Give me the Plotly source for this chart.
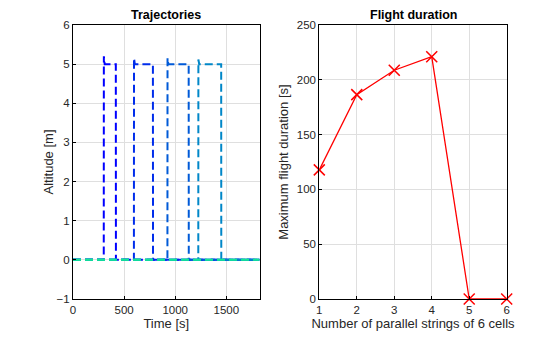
import plotly.graph_objects as go

# ---- Data ----
n_strings = [1, 2, 3, 4, 5, 6]
flight_duration = [117.8, 186.5, 208.7, 221.1, 0, 0]

# Trajectory breakpoints (time [s], altitude [m]) per configuration
traj_t = [
    [0, 301, 302, 305, 310, 419, 420, 1825],
    [0, 596, 597, 600, 605, 782, 783, 1825],
    [0, 924, 925, 928, 933, 1132, 1133, 1825],
    [0, 1226, 1227, 1230, 1235, 1450, 1451, 1825],
    [0, 1825],
    [0, 1825],
]
traj_alt = [
    [0, 0, 5.2, 5.05, 5.0, 5.0, 0, 0],
    [0, 0, 5.15, 5.02, 5.0, 5.0, 0, 0],
    [0, 0, 5.15, 5.02, 5.0, 5.0, 0, 0],
    [0, 0, 5.12, 5.02, 5.0, 5.0, 0, 0],
    [0, 0],
    [0, 0],
]
traj_colors = ["rgb(0,0,255)", "rgb(0,45,235)", "rgb(0,90,215)",
               "rgb(0,135,200)", "rgb(0,190,170)", "rgb(20,230,150)"]

x_ticks_left = [0, 500, 1000, 1500]
y_ticks_left = [-1, 0, 1, 2, 3, 4, 5, 6]
y_ticks_right = [0, 50, 100, 150, 200, 250]

FONT = "Liberation Sans, Arial, sans-serif"

fig = go.Figure()

for t, a, c in zip(traj_t, traj_alt, traj_colors):
    fig.add_trace(go.Scatter(x=t, y=a, mode="lines", xaxis="x", yaxis="y",
                             line=dict(color=c, width=2, dash="8px,4px"),
                             showlegend=False, hoverinfo="skip"))

fig.add_trace(go.Scatter(x=n_strings, y=flight_duration, mode="lines+markers",
                         xaxis="x2", yaxis="y2",
                         line=dict(color="rgb(255,0,0)", width=1.3),
                         marker=dict(symbol="x-thin", size=11,
                                     line=dict(color="rgb(255,0,0)", width=1.5)),
                         showlegend=False, cliponaxis=False))

ax_common = dict(showline=True, linecolor="black", linewidth=1, mirror=True,
                 showgrid=True, gridcolor="rgb(223,223,223)", gridwidth=1,
                 ticks="inside", ticklen=3, tickcolor="black", zeroline=False,
                 automargin=False,
                 tickfont=dict(family=FONT, size=11.5, color="rgb(38,38,38)"))

ydom = [1 - 299 / 337, 1 - 25 / 337]
TFONT = dict(family=FONT, size=13, color="rgb(38,38,38)")

fig.update_layout(
    width=560, height=337,
    margin=dict(l=0, r=0, t=0, b=0),
    paper_bgcolor="white", plot_bgcolor="white",
    font=dict(family=FONT, color="rgb(38,38,38)"),
    xaxis=dict(domain=[73 / 560, 259.5 / 560], range=[0, 1825],
               tickvals=x_ticks_left, anchor="y",
               title=dict(text="Time [s]", font=TFONT, standoff=4),
               **ax_common),
    yaxis=dict(domain=ydom, range=[-1, 6], tickvals=y_ticks_left, anchor="x",
               title=dict(text="Altitude [m]", font=TFONT, standoff=0),
               **ax_common),
    xaxis2=dict(domain=[319.3 / 560, 506.7 / 560], range=[1, 6],
                tickvals=n_strings, anchor="y2",
                title=dict(text="Number of parallel strings of 6 cells",
                           font=TFONT, standoff=4),
                **ax_common),
    yaxis2=dict(domain=ydom, range=[0, 250], tickvals=y_ticks_right, anchor="x2",
                title=dict(text="Maximum flight duration [s]", font=TFONT,
                           standoff=5),
                **ax_common),
    annotations=[
        dict(text="<b>Trajectories</b>", x=(73 + 259.5) / 2 / 560, y=1 - 15 / 337,
             xref="paper", yref="paper", showarrow=False, xanchor="center",
             font=dict(family=FONT, size=12.5, color="black"), yanchor="middle"),
        dict(text="<b>Flight duration</b>", x=(319.3 + 506.7) / 2 / 560,
             y=1 - 15 / 337, xref="paper", yref="paper", showarrow=False,
             xanchor="center",
             font=dict(family=FONT, size=12.5, color="black"), yanchor="middle"),
    ],
)

fig.write_html("out.html")
